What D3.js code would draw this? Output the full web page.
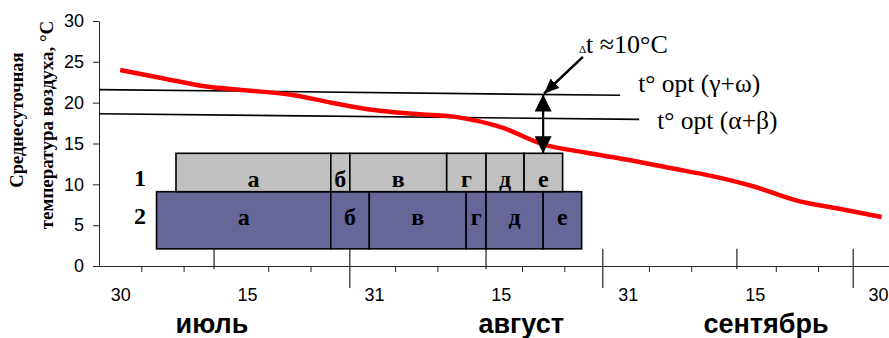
<!DOCTYPE html>
<html>
<head>
<meta charset="utf-8">
<script src="https://cdn.jsdelivr.net/npm/d3@7"></script>
<style>
  body { margin: 0; background: #fff; }
  svg { display: block; }
</style>
</head>
<body>
<svg id="chart" width="889" height="338"></svg>
<script>
// x runs in slots (one slot ≈ five days), slot 0 starts on 30 June
const dayLabels   = ["30", "15", "31", "15", "31", "15", "30"];
const labelSlots  = [0.5, 3.5, 6.5, 9.5, 12.5, 15.5, 18.5];
const monthNames  = ["июль", "август", "сентябрь"];
const monthSlots  = [2.67, 9.98, 15.77];
const yTicks      = [0, 5, 10, 15, 20, 25, 30];

// mean daily air temperature, one value per slot centre
const meanTemp = [24, 23, 22, 21.5, 21, 20, 19.1, 18.6, 18.2, 17, 14.9, 13.9, 13, 12, 11, 9.7, 8, 7, 6];

// optimum temperature lines: [slot, °C] at each end
const optGammaOmega = [[0, 21.6], [12.32, 20.9]];
const optAlphaBeta  = [[0, 18.65], [12.77, 17.95]];

// development phases of the two variants
const phaseNames  = ["а", "б", "в", "г", "д", "е"];
const row1Bounds  = [1.82, 5.48, 5.93, 8.22, 9.15, 10.05, 10.96];
const row2Bounds  = [1.36, 5.48, 6.39, 8.68, 9.15, 10.50, 11.41];
const row1Span    = [9.1, 13.8];
const row2Span    = [2.1, 9.1];
const row1TextAt  = 9.7;
const row2TextAt  = 5.0;

// half-month boundary marks
const periodMarks = [2.72, 5.93, 9.15, 11.91, 15.08, 17.83];

// Δt arrow between the upper optimum line and the phase bar
const deltaSlot  = 10.5;
const deltaSpan  = [21.0, 13.8];
const deltaLabelFrom = [11.44, 25.6];

const W = 889;
const svg = d3.select("#chart");
const x = d3.scaleLinear().domain([0, 19]).range([99, 99 + 19 * 42.3]);
const y = d3.scaleLinear().domain([0, 30]).range([266, 21]);

const axisColor = "#222";
const serif = "'Liberation Serif', 'Times New Roman', serif";
const sans  = "'Liberation Sans', Arial, sans-serif";

const defs = svg.append("defs");
defs.append("marker")
  .attr("id", "headBig").attr("markerUnits", "userSpaceOnUse")
  .attr("viewBox", "0 0 17 17").attr("refX", 17).attr("refY", 8.5)
  .attr("markerWidth", 17).attr("markerHeight", 17)
  .attr("orient", "auto-start-reverse")
  .append("path").attr("d", "M0,0 L17,8.5 L0,17 Z").attr("fill", "#000");
defs.append("marker")
  .attr("id", "headSmall").attr("markerUnits", "userSpaceOnUse")
  .attr("viewBox", "0 0 15 13").attr("refX", 15).attr("refY", 6.5)
  .attr("markerWidth", 15).attr("markerHeight", 13)
  .attr("orient", "auto")
  .append("path").attr("d", "M0,0 L15,6.5 L0,13 Z").attr("fill", "#000");

// ---- y axis ----
const yAxis = svg.append("g")
  .attr("transform", `translate(${x(0)},0)`)
  .call(d3.axisLeft(y).tickValues(yTicks).tickSize(6).tickPadding(9).tickSizeOuter(0));
yAxis.select(".domain").attr("stroke", axisColor);
yAxis.selectAll(".tick line").attr("stroke", axisColor);
yAxis.selectAll("text").attr("font-family", sans).attr("font-size", 18).attr("fill", "#000");

// ---- x axis: small slot ticks ----
const smallTicks = d3.range(1, 19).filter(k => k % 3 !== 0);
const xAxis = svg.append("g")
  .attr("transform", `translate(0,${y(0)})`)
  .call(d3.axisBottom(x).tickValues(smallTicks).tickSize(6).tickSizeOuter(0).tickFormat(""));
xAxis.select(".domain").attr("stroke", axisColor);
xAxis.selectAll(".tick line").attr("stroke", axisColor);

// day labels
const xLab = svg.append("g")
  .attr("transform", `translate(0,${y(0)})`)
  .call(d3.axisBottom(x).tickValues(labelSlots).tickSize(0).tickPadding(22)
    .tickFormat((d, i) => dayLabels[i]));
xLab.select(".domain").remove();
xLab.selectAll("text").attr("font-family", sans).attr("font-size", 18).attr("fill", "#000");
// keep the last label inside the canvas
xLab.selectAll(".tick").each(function (d) {
  const t = d3.select(this).select("text");
  const bb = t.node().getBBox();
  const right = x(d) + bb.x + bb.width;
  if (right > W - 1) t.attr("x", (W - 1) - right);
});

// half-month marks
svg.append("g").selectAll("line").data(periodMarks).join("line")
  .attr("x1", d => x(d)).attr("x2", d => x(d))
  .attr("y1", y(2.1))
  .attr("y2", (d, i) => i % 2 === 0 ? y(-0.4) : y(-2.7))
  .attr("stroke", axisColor).attr("stroke-width", 1.2);

// month names
svg.append("g").selectAll("text").data(monthNames).join("text")
  .attr("x", (d, i) => x(monthSlots[i])).attr("y", 333)
  .attr("text-anchor", "middle")
  .attr("font-family", sans).attr("font-weight", "bold").attr("font-size", 27)
  .text(d => d);

// ---- y axis title ----
const yTitle = svg.append("g").attr("font-family", serif).attr("font-weight", "bold")
  .attr("text-anchor", "middle");
yTitle.append("text")
  .attr("transform", "translate(23,120) rotate(-90)")
  .attr("font-size", 18.5).text("Среднесуточная");
yTitle.append("text")
  .attr("transform", "translate(53,125) rotate(-90)")
  .attr("font-size", 19).text("температура воздуха, °С");

// ---- optimum lines ----
const straight = d3.line().x(d => x(d[0])).y(d => y(d[1]));
[optGammaOmega, optAlphaBeta].forEach(seg => {
  svg.append("path").attr("d", straight(seg))
    .attr("fill", "none").attr("stroke", "#000").attr("stroke-width", 1.6);
});
svg.append("text")
  .attr("x", x(optGammaOmega[1][0]) + 18).attr("y", y(optGammaOmega[1][1]) - 3)
  .attr("font-family", serif).attr("font-size", 25.5).text("t° opt (γ+ω)");
svg.append("text")
  .attr("x", x(optAlphaBeta[1][0]) + 18).attr("y", y(optAlphaBeta[1][1]) + 10)
  .attr("font-family", serif).attr("font-size", 25.5).text("t° opt (α+β)");

// ---- temperature curve ----
const curve = d3.line()
  .x((d, i) => x(i + 0.5)).y(d => y(d))
  .curve(d3.curveMonotoneX);
svg.append("path").datum(meanTemp).attr("d", curve)
  .attr("fill", "none").attr("stroke", "#ff0000").attr("stroke-width", 4.5)
  .attr("stroke-linejoin", "round");

// ---- phase bars ----
function drawRow(bounds, span, fill, textAt, rowName) {
  const g = svg.append("g");
  const segs = phaseNames.map((n, i) => ({ n, a: bounds[i], b: bounds[i + 1] }));
  g.selectAll("rect").data(segs).join("rect")
    .attr("x", d => x(d.a)).attr("width", d => x(d.b) - x(d.a))
    .attr("y", y(span[1])).attr("height", y(span[0]) - y(span[1]))
    .attr("fill", fill).attr("stroke", "#000").attr("stroke-width", 1.6);
  g.selectAll("text.ph").data(segs).join("text").attr("class", "ph")
    .attr("x", d => x((d.a + d.b) / 2)).attr("y", y(textAt))
    .attr("text-anchor", "middle")
    .attr("font-family", serif).attr("font-weight", "bold").attr("font-size", 24)
    .text(d => d.n);
  svg.append("text")
    .attr("x", 146).attr("y", y(textAt) - 1)
    .attr("text-anchor", "end")
    .attr("font-family", serif).attr("font-weight", "bold").attr("font-size", 24)
    .text(rowName);
}
drawRow(row2Bounds, row2Span, "#666699", row2TextAt, "2");
drawRow(row1Bounds, row1Span, "#c0c0c0", row1TextAt, "1");

// ---- Δt arrows ----
svg.append("line")
  .attr("x1", x(deltaSlot)).attr("x2", x(deltaSlot))
  .attr("y1", y(deltaSpan[0])).attr("y2", y(deltaSpan[1]))
  .attr("stroke", "#000").attr("stroke-width", 2.2)
  .attr("marker-start", "url(#headBig)").attr("marker-end", "url(#headBig)");
svg.append("line")
  .attr("x1", x(deltaLabelFrom[0])).attr("y1", y(deltaLabelFrom[1]))
  .attr("x2", x(deltaSlot) + 1).attr("y2", y(deltaSpan[0]) - 1)
  .attr("stroke", "#000").attr("stroke-width", 2.5)
  .attr("marker-end", "url(#headSmall)");

const dt = svg.append("text")
  .attr("x", x(deltaLabelFrom[0]) - 4).attr("y", y(deltaLabelFrom[1]) - 4)
  .attr("font-family", serif);
dt.append("tspan").attr("font-size", 11).text("Δ");
dt.append("tspan").attr("font-size", 26).text("t ≈10°C");
</script>
</body>
</html>
